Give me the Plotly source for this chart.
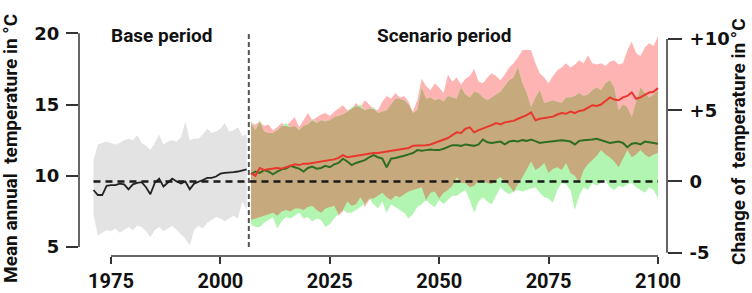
import plotly.graph_objects as go

# ---------------- data ----------------
base_years = list(range(1971, 2007))
base_mean = [9.0, 8.65, 8.65, 9.3, 9.35, 9.35, 9.45, 9.4, 9.05, 9.4,
             9.5, 9.55, 9.2, 8.7, 9.5, 9.8, 9.25, 9.55, 9.8, 9.6,
             9.45, 9.6, 9.05, 9.45, 9.55, 9.7, 9.85, 9.85, 9.95, 10.15,
             10.2, 10.2, 10.25, 10.3, 10.4, 10.45]
base_hi = [11.1, 12.2, 12.3, 12.4, 12.3, 12.2, 12.3, 12.5, 12.6, 12.5,
           12.85, 12.3, 12.1, 11.8, 12.3, 12.9, 12.2, 12.4, 12.5, 12.4,
           12.7, 13.8, 12.5, 12.6, 12.6, 12.9, 13.3, 13.0, 13.1, 13.3,
           13.7, 13.1, 13.2, 13.4, 12.8, 12.9]
base_lo = [7.3, 5.8, 6.0, 6.2, 6.1, 6.3, 6.0, 6.2, 6.4, 6.2,
           6.5, 6.4, 6.1, 5.7, 6.2, 6.4, 6.1, 6.3, 6.5, 6.2,
           5.9, 5.6, 5.1, 6.2, 6.5, 6.3, 6.7, 6.9, 7.1, 7.0,
           6.8, 7.0, 7.2, 7.0, 8.2, 7.6]

scen_years = list(range(2007, 2101))
red_mean = [10.2, 10.0, 10.55, 10.4, 10.45, 10.5, 10.55, 10.5, 10.6, 10.7,
            10.8, 10.75, 10.85, 10.85, 10.9, 10.95, 11.0, 11.0, 11.1, 11.15,
            11.25, 11.45, 11.3, 11.35, 11.4, 11.5, 11.5, 11.55, 11.6, 11.6,
            11.65, 11.7, 11.8, 11.8, 11.85, 11.9, 11.95, 12.1, 12.1, 12.1,
            12.15, 12.2, 12.3, 12.4, 12.5, 12.65, 12.85, 13.05, 13.0, 13.3,
            13.4, 13.05, 13.2, 13.3, 13.4, 13.55, 13.7, 13.6, 13.75, 13.8,
            13.85, 14.0, 14.1, 14.25, 14.45, 13.9, 14.0, 14.05, 14.1, 14.15,
            14.3, 14.4, 14.35, 14.5, 14.4, 14.55, 14.6, 14.8, 14.95, 14.9,
            15.0, 15.25, 15.5, 15.35, 15.3, 15.5, 15.6, 15.85, 15.4, 15.5,
            15.7, 15.85, 15.9, 16.15]
green_mean = [10.1, 10.3, 10.2, 10.4, 10.3, 10.1, 10.3, 10.45, 10.5, 10.7,
              10.6, 10.5, 10.3, 10.55, 10.65, 10.5, 10.55, 10.7, 10.6, 10.8,
              10.9, 11.2, 11.0, 10.75, 10.9, 11.0, 11.1, 11.3, 11.45, 11.3,
              11.2, 10.6, 11.2, 11.25, 11.3, 11.4, 11.5, 11.6, 11.8, 11.75,
              11.8, 11.85, 11.8, 11.8, 11.9, 12.0, 12.15, 12.15, 12.1, 12.2,
              12.15, 12.1, 12.2, 12.55, 12.35, 12.3, 12.35, 12.4, 12.2, 12.4,
              12.45, 12.4, 12.5, 12.45, 12.55, 12.4, 12.3, 12.35, 12.4, 12.4,
              12.45, 12.5, 12.45, 12.4, 12.2, 12.45, 12.5, 12.5, 12.55, 12.6,
              12.5, 12.4, 12.3, 12.35, 12.4, 12.3, 12.0, 12.25, 12.3, 12.2,
              12.4, 12.35, 12.3, 12.25]
red_hi = [13.7, 13.6, 13.8, 13.5, 13.6, 13.2, 13.4, 13.7, 13.5, 13.8,
          14.1, 13.4, 13.9, 14.4, 13.9, 14.1, 14.3, 14.4, 14.2, 14.5,
          14.7, 14.95, 14.6, 14.7, 15.1, 14.8, 15.3, 15.0, 14.7, 14.6,
          15.2, 15.6, 15.4, 15.8, 15.5, 15.6, 15.2, 14.5, 15.3, 16.8,
          16.3, 16.0, 16.5, 16.2, 15.8, 17.1, 16.6, 16.9, 16.4, 16.8,
          17.0, 17.5, 16.6, 16.5, 16.9, 17.2, 17.0, 16.7, 17.1, 17.6,
          17.9, 18.3, 18.8, 18.85, 18.8, 17.9, 17.2, 16.9, 16.5, 17.0,
          17.4, 17.6, 17.9, 17.6, 17.8, 18.1, 17.9, 18.45, 17.9, 17.8,
          17.9, 17.7, 18.0, 18.1, 17.8, 17.9, 18.8, 19.4, 18.6, 18.4,
          19.0, 19.3, 19.1, 19.8]
red_lo = [6.9, 7.0, 7.1, 7.2, 7.3, 7.4, 7.2, 7.5, 7.6, 7.5,
          7.7, 7.7, 7.6, 7.8, 7.9, 7.6, 7.4, 7.7, 7.8, 7.9,
          7.2, 7.5, 8.2, 7.9, 8.0, 8.5, 7.8, 8.3, 8.4, 8.6,
          8.8, 8.5, 8.3, 8.6, 8.5, 8.7, 8.9, 9.0, 9.1, 9.2,
          8.2, 8.8, 8.9, 8.4, 8.8, 9.0, 9.3, 9.9, 9.5, 9.5,
          9.2, 9.3, 9.7, 9.6, 9.5, 9.4, 9.7, 9.9, 9.6, 9.3,
          8.8, 9.4, 9.9, 10.4, 11.0, 10.4, 10.6, 10.9, 10.2, 10.5,
          10.6, 10.4, 10.9, 10.2, 10.0, 9.5, 10.4, 10.8, 11.1, 11.4,
          11.8, 11.5, 11.3, 11.0, 10.6, 11.2, 11.8, 11.3, 11.5, 11.8,
          11.5, 11.3, 11.5, 11.6]
green_hi = [13.9, 13.2, 13.9, 13.1, 13.0, 13.0, 13.2, 13.5, 13.7, 13.4,
            13.5, 13.2, 13.5, 13.6, 14.0, 13.7, 13.9, 13.8, 13.9, 14.1,
            14.2, 14.3, 14.5, 14.8, 14.9, 15.0, 14.6, 14.7, 14.8, 14.4,
            14.5, 14.6, 15.0, 15.4, 15.4, 15.3, 15.0, 14.4, 14.6, 16.2,
            15.4, 15.5, 15.3, 15.4, 15.2, 15.6, 15.5, 15.4, 16.2, 15.7,
            15.5, 15.9, 15.8, 15.5, 15.3, 15.5, 15.7, 15.9, 16.3, 16.7,
            16.9, 17.6, 16.5, 15.8, 14.8, 15.5, 16.0, 15.1, 15.2, 15.3,
            15.2, 15.1, 15.5, 15.5, 15.6, 15.8, 15.6, 15.7, 16.0, 16.2,
            16.0, 16.5, 16.7, 16.2, 14.6, 15.0, 14.8, 14.1, 15.2, 16.2,
            15.8, 15.5, 15.7, 16.0]
green_lo = [6.6, 6.4, 6.4, 6.7, 6.9, 7.1, 6.3, 6.8, 7.1, 7.0,
            7.2, 7.4, 7.0, 7.1, 6.8, 7.0, 6.9, 6.4, 6.6, 7.0,
            7.3, 7.6, 7.4, 7.4, 7.6, 7.8, 8.0, 8.4, 8.0, 7.7,
            8.2, 7.4, 8.0, 7.8, 7.6, 7.4, 7.0, 7.3, 7.8, 8.0,
            8.3, 8.0, 7.8, 8.3, 8.0, 8.3, 8.6, 8.6, 8.8, 9.0,
            8.3, 7.4, 8.2, 8.5, 8.2, 8.0, 8.6, 9.2, 8.9, 8.7,
            8.9, 9.0, 8.9, 9.0, 9.1, 9.2, 8.8, 8.5, 8.4, 8.1,
            9.0, 9.5, 9.4, 9.0, 7.6, 8.6, 9.2, 9.0, 9.5, 9.3,
            9.5, 9.7, 9.2, 9.0, 9.3, 9.2, 9.4, 9.5, 9.2, 9.0,
            8.8, 9.2, 9.0, 8.4]

baseline = 9.6          # base-period mean temperature = 0 change
split_year = 2006.5     # boundary between base and scenario period

x_ticks = [1975, 2000, 2025, 2050, 2075, 2100]
y_ticks = [5, 10, 15, 20]
y2_ticks = [-5, 0, 5, 10]
y2_labels = ["-5", "0", "+5", "+10"]

for arr in (red_mean, green_mean, red_hi, red_lo, green_hi, green_lo):
    assert len(arr) == len(scen_years), len(arr)
for arr in (base_mean, base_hi, base_lo):
    assert len(arr) == len(base_years), len(arr)

# ---------------- styling ----------------
C_GRAY = "#e3e3e3"
C_PINK = "#ffb4b4"
C_GREEN = "#b2f5b0"
C_TAN = "#c6aa7e"
C_RED = "#e8372c"
C_DGREEN = "#2f6e22"
C_AX = "#333333"
SANS = "Roboto, 'DejaVu Sans', sans-serif"
WIDE = "'DejaVu Sans', sans-serif"

y_rng = [4.37, 20.3]
y2_rng = [y_rng[0] - baseline, y_rng[1] - baseline]


def band(xs, hi, lo, color):
    return go.Scatter(x=xs + xs[::-1], y=hi + lo[::-1], fill="toself",
                      fillcolor=color, line=dict(width=0), mode="lines",
                      hoverinfo="skip", showlegend=False)


ov_hi = [min(a, b) for a, b in zip(red_hi, green_hi)]
ov_lo = [max(a, b) for a, b in zip(red_lo, green_lo)]

fig = go.Figure()
fig.add_trace(band(base_years, base_hi, base_lo, C_GRAY))
fig.add_trace(band(scen_years, red_hi, red_lo, C_PINK))
fig.add_trace(band(scen_years, green_hi, green_lo, C_GREEN))
fig.add_trace(band(scen_years, ov_hi, ov_lo, C_TAN))

fig.add_trace(go.Scatter(x=[base_years[0], scen_years[-1]], y=[0, 0], yaxis="y2",
                         mode="lines", line=dict(color="#1a1a1a", width=2.5, dash="7px,5px"),
                         showlegend=False, hoverinfo="skip"))
fig.add_trace(go.Scatter(x=base_years, y=base_mean, mode="lines",
                         line=dict(color="#222222", width=1.8), showlegend=False))
fig.add_trace(go.Scatter(x=scen_years, y=green_mean, mode="lines",
                         line=dict(color=C_DGREEN, width=2), showlegend=False))
fig.add_trace(go.Scatter(x=scen_years, y=red_mean, mode="lines",
                         line=dict(color=C_RED, width=2), showlegend=False))

tick_common = dict(showgrid=False, zeroline=False, showline=False, automargin=False,
                   ticks="outside", tickwidth=1.5, tickcolor=C_AX)

fig.update_layout(
    template="none",
    width=752, height=293,
    margin=dict(l=79, r=85, t=29, b=37, autoexpand=False),
    paper_bgcolor="white", plot_bgcolor="white",
    showlegend=False,
    xaxis=dict(range=[1967.69, 2102.06], tickvals=x_ticks, ticklen=7,
               tickfont=dict(family=SANS, size=20, color="#111", weight="bold"),
               **tick_common),
    yaxis=dict(range=y_rng, tickvals=y_ticks, ticklen=12, ticklabelstandoff=3,
               tickfont=dict(family=WIDE, size=18, color="#111", weight="bold"),
               **tick_common),
    yaxis2=dict(range=y2_rng, tickvals=y2_ticks, ticktext=y2_labels, overlaying="y",
                side="right", ticklen=14, ticklabelstandoff=4,
                tickfont=dict(family=WIDE, size=18, color="#111", weight="bold"),
                **tick_common),
)

line_ax = dict(color=C_AX, width=1.5)
fig.add_shape(type="line", xref="paper", yref="y", x0=0, x1=0,
              y0=y_ticks[0], y1=y_ticks[-1], line=line_ax)
fig.add_shape(type="line", xref="paper", yref="y2", x0=1, x1=1,
              y0=y2_ticks[0], y1=y2_ticks[-1], line=line_ax)
fig.add_shape(type="line", xref="x", yref="paper", x0=x_ticks[0], x1=x_ticks[-1],
              y0=0, y1=0, line=line_ax)
fig.add_shape(type="line", xref="x", yref="y", x0=split_year, x1=split_year,
              y0=y_ticks[0], y1=y_ticks[-1],
              line=dict(color="#555555", width=2, dash="5px,3px"))

title_font = dict(family=SANS, size=19, color="#111", weight="bold")
axis_title_font = dict(family=SANS, size=19, color="#111", weight="bold")
fig.add_annotation(text="Base period", x=1986.5, y=19.85, xref="x", yref="y",
                   showarrow=False, xanchor="center", yanchor="middle", font=title_font)
fig.add_annotation(text="Scenario period", x=2051, y=19.85, xref="x", yref="y",
                   showarrow=False, xanchor="center", yanchor="middle", font=title_font)
fig.add_annotation(text="Mean annual\u00a0\u00a0temperature in °C", textangle=-90,
                   x=(10 - 79) / 588, y=(256 - 149) / 227, xref="paper", yref="paper",
                   showarrow=False, xanchor="center", yanchor="middle", font=axis_title_font)
fig.add_annotation(text="Change of\u00a0\u00a0temperature in °C", textangle=-90,
                   x=(738 - 79) / 588, y=(256 - 142) / 227, xref="paper", yref="paper",
                   showarrow=False, xanchor="center", yanchor="middle", font=axis_title_font)

fig.write_html(
    "out.html",
    config={"displayModeBar": False},
    post_script="document.body.style.margin='0';document.body.style.padding='0';"
                "document.documentElement.style.overflow='hidden';",
)
